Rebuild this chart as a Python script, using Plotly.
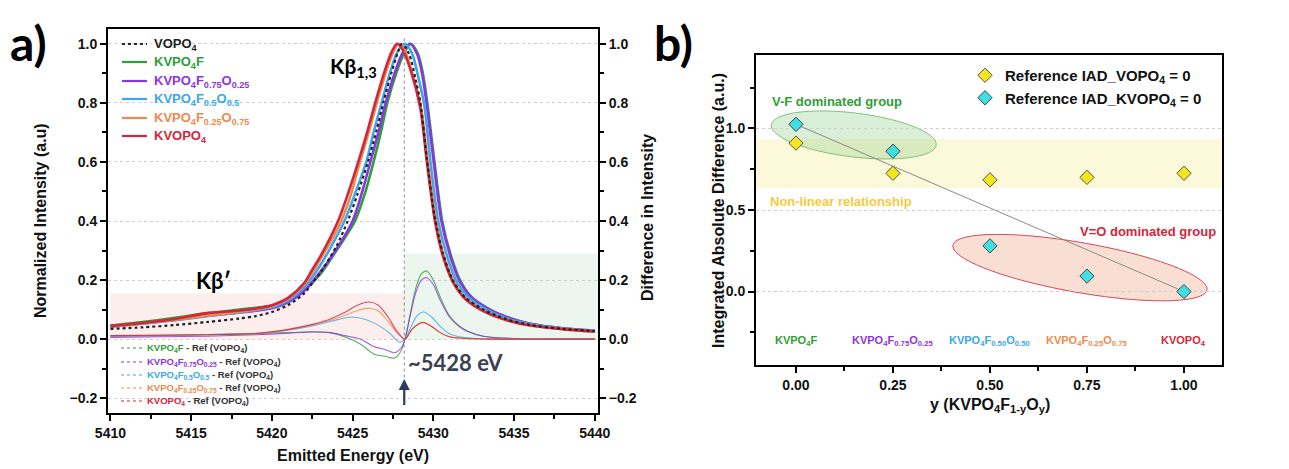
import numpy as np
import plotly.graph_objects as go

# ---------------- data: panel a (normalized Kβ spectra) ----------------
vopo4_E = [5410, 5412, 5414, 5416, 5418, 5419, 5420, 5421, 5422, 5422.5, 5423, 5424, 5424.7, 5425.3, 5425.95, 5426.5,
           5426.9, 5427.4, 5427.8, 5428.05, 5428.5, 5428.9, 5429.2, 5429.6, 5430.1, 5430.6, 5431.2, 5432, 5433.1,
           5434.5, 5436, 5438, 5440]
vopo4_I = [0.035, 0.04, 0.048, 0.058, 0.07, 0.078, 0.092, 0.115, 0.155, 0.19, 0.225, 0.315, 0.40, 0.49, 0.60, 0.71,
           0.80, 0.90, 0.97, 1.0, 0.965, 0.88, 0.80, 0.61, 0.41, 0.29, 0.20, 0.14, 0.10,
           0.068, 0.048, 0.035, 0.027]

kvpo4f_E = [5410, 5412, 5414, 5416, 5418, 5419, 5420, 5421, 5422, 5423, 5424, 5424.6, 5425.15, 5425.8, 5426.3,
            5426.75, 5427.15, 5427.7, 5428.2, 5428.6, 5429.05, 5429.35, 5429.65, 5430.05, 5430.55, 5431.05,
            5431.65, 5432.4, 5433.5, 5434.8, 5436, 5438, 5440]
kvpo4f_I = [0.046, 0.058, 0.072, 0.088, 0.1, 0.106, 0.114, 0.13, 0.165, 0.22, 0.30, 0.35, 0.40, 0.50, 0.60,
            0.70, 0.80, 0.90, 0.97, 1.0, 0.965, 0.90, 0.79, 0.61, 0.40, 0.29,
            0.20, 0.14, 0.10, 0.07, 0.052, 0.037, 0.029]

f75_E = [5410, 5412, 5414, 5416, 5418, 5420, 5421, 5422, 5423, 5424, 5425.0, 5425.6, 5426.1, 5426.6, 5427.05,
         5427.6, 5428.1, 5428.55, 5429.0, 5429.3, 5429.6, 5430.0, 5430.5, 5431.0, 5431.6, 5432.4, 5433.5,
         5434.8, 5436, 5438, 5440]
f75_I = [0.043, 0.053, 0.065, 0.079, 0.09, 0.105, 0.125, 0.163, 0.228, 0.305, 0.40, 0.50, 0.60, 0.70, 0.80,
         0.90, 0.97, 1.0, 0.965, 0.90, 0.79, 0.61, 0.40, 0.29, 0.20, 0.14, 0.10,
         0.07, 0.052, 0.037, 0.029]

f50_E = [5410, 5412, 5414, 5416, 5418, 5420, 5421, 5422, 5423, 5424.5, 5425.2, 5425.85, 5426.3, 5426.8, 5427.3,
         5427.8, 5428.25, 5428.7, 5429.1, 5429.45, 5429.8, 5430.3, 5430.8, 5431.4, 5432.2, 5433.3, 5434.5,
         5436, 5438, 5440]
f50_I = [0.042, 0.052, 0.064, 0.078, 0.09, 0.108, 0.13, 0.175, 0.25, 0.40, 0.50, 0.60, 0.70, 0.80, 0.90,
         0.975, 1.0, 0.965, 0.88, 0.79, 0.61, 0.40, 0.29, 0.20, 0.14, 0.10, 0.071,
         0.05, 0.036, 0.028]

f25_E = [5410, 5412, 5414, 5416, 5418, 5420, 5421, 5422, 5423, 5424.3, 5424.9, 5425.45, 5426.0, 5426.5, 5427.1,
         5427.5, 5427.85, 5428.2, 5428.7, 5429.25, 5429.65, 5430.15, 5430.65, 5431.25, 5432, 5433.1, 5434.5,
         5436, 5438, 5440]
f25_I = [0.044, 0.054, 0.066, 0.08, 0.093, 0.112, 0.137, 0.185, 0.27, 0.40, 0.49, 0.60, 0.70, 0.80, 0.91,
         0.97, 1.0, 0.98, 0.90, 0.78, 0.60, 0.40, 0.28, 0.195, 0.137, 0.096, 0.066,
         0.047, 0.034, 0.026]

kvopo4_E = [5410, 5412, 5414, 5416, 5418, 5419, 5420, 5421, 5422, 5422.5, 5423, 5424.1, 5424.7, 5425.35, 5425.9,
            5426.4, 5427.0, 5427.4, 5427.75, 5428.1, 5428.6, 5429.2, 5429.6, 5430.1, 5430.6, 5431.2, 5432,
            5433.1, 5434.5, 5436, 5438, 5440]
kvopo4_I = [0.045, 0.055, 0.068, 0.088, 0.097, 0.104, 0.115, 0.14, 0.19, 0.235, 0.28, 0.40, 0.49, 0.60, 0.70,
            0.80, 0.91, 0.97, 1.0, 0.98, 0.91, 0.78, 0.60, 0.40, 0.28, 0.195, 0.135,
            0.095, 0.065, 0.046, 0.034, 0.026]

# ---------------- data: panel a (difference spectra, sample - VOPO4) ----------------
dgp_E = [5410, 5413, 5416, 5419, 5421, 5422.5, 5423.6, 5424.5, 5425.5, 5426.3, 5427.0, 5427.6, 5428.0, 5428.25,
         5428.55, 5428.9, 5429.25, 5429.6, 5430.0, 5430.4, 5431.0, 5431.6, 5432.1, 5433.1, 5435, 5437.5, 5440]
d_kvpo4f = [0.01, 0.012, 0.016, 0.02, 0.022, 0.025, 0.022, 0.008, -0.017, -0.05, -0.058, -0.064, -0.04, 0.0,
            0.08, 0.17, 0.22, 0.231, 0.2, 0.146, 0.079, 0.045, 0.028, 0.01, 0.002, 0.0, 0.0]
d_f75 = [0.006, 0.008, 0.01, 0.015, 0.02, 0.024, 0.022, 0.012, 0.0, -0.025, -0.035, -0.046, -0.03, 0.0,
         0.075, 0.155, 0.2, 0.208, 0.185, 0.135, 0.075, 0.043, 0.027, 0.01, 0.002, 0.0, 0.0]

d50_E = [5410, 5413, 5416, 5419, 5421, 5422.5, 5423.5, 5424.8, 5425.6, 5426.5, 5427.3, 5427.9, 5428.25, 5428.6,
         5429.0, 5429.4, 5429.9, 5430.4, 5431.0, 5431.6, 5432.5, 5434, 5437, 5440]
d_f50 = [0.012, 0.013, 0.015, 0.018, 0.03, 0.045, 0.058, 0.074, 0.07, 0.05, 0.02, -0.01, 0.0, 0.04,
         0.08, 0.092, 0.075, 0.045, 0.018, 0.008, 0.003, 0.0, 0.0, 0.0]

dO_E = [5410, 5413, 5416, 5419, 5421, 5422.5, 5423.5, 5424.5, 5425.3, 5426.0, 5426.6, 5427.2, 5427.7, 5428.25,
        5428.7, 5429.35, 5429.9, 5430.4, 5431.0, 5432, 5434, 5437, 5440]
d_f25 = [0.012, 0.013, 0.015, 0.019, 0.032, 0.048, 0.062, 0.08, 0.097, 0.105, 0.095, 0.06, 0.025, 0.0,
         0.035, 0.055, 0.042, 0.023, 0.008, 0.002, 0.0, 0.0, 0.0]
d_kvopo4 = [0.012, 0.013, 0.015, 0.019, 0.033, 0.05, 0.066, 0.09, 0.115, 0.126, 0.115, 0.075, 0.03, 0.0,
            0.035, 0.057, 0.043, 0.023, 0.008, 0.002, 0.0, 0.0, 0.0]

# ---------------- data: panel b (IAD) ----------------
y_comp = [0.0, 0.25, 0.50, 0.75, 1.00]
iad_ref_vopo4 = [0.91, 0.725, 0.685, 0.70, 0.725]
iad_ref_kvopo4 = [1.025, 0.86, 0.28, 0.095, 0.0]
comp_labels = ["KVPO<sub>4</sub>F", "KVPO<sub>4</sub>F<sub>0.75</sub>O<sub>0.25</sub>",
               "KVPO<sub>4</sub>F<sub>0.50</sub>O<sub>0.50</sub>", "KVPO<sub>4</sub>F<sub>0.25</sub>O<sub>0.75</sub>",
               "KVOPO<sub>4</sub>"]
legend_labels = ["KVPO<sub>4</sub>F", "KVPO<sub>4</sub>F<sub>0.75</sub>O<sub>0.25</sub>",
                 "KVPO<sub>4</sub>F<sub>0.5</sub>O<sub>0.5</sub>", "KVPO<sub>4</sub>F<sub>0.25</sub>O<sub>0.75</sub>",
                 "KVOPO<sub>4</sub>"]

GREEN = "#2f9e35"
PURPLE = "#8b34e3"
BLUE = "#3aa8ea"
ORANGE = "#f08a4c"
RED = "#d3263a"
comp_colors = [GREEN, PURPLE, BLUE, ORANGE, RED]

AR = "Liberation Sans"
CAL = "Lato"
W, H = 1289, 469

def col(txt, c):
    return f'<span style="color:{c}">{txt}</span>'

def px(x):
    return x / W

def py(y):
    return (H - y) / H

fig = go.Figure()

main = [
    (kvpo4f_E, kvpo4f_I),
    (f75_E, f75_I),
    (f50_E, f50_I),
    (f25_E, f25_I),
    (kvopo4_E, kvopo4_I),
]
diffs = [
    (dgp_E, d_kvpo4f),
    (dgp_E, d_f75),
    (d50_E, d_f50),
    (dO_E, d_f25),
    (dO_E, d_kvopo4),
]
for (E, D), c, nm in zip(diffs, comp_colors, legend_labels):
    fig.add_trace(go.Scatter(x=E, y=D, mode="lines", xaxis="x", yaxis="y2",
                             line=dict(color=c, width=1.1, shape="spline", smoothing=0.8),
                             opacity=0.8, name=nm + " - Ref (VOPO4)", showlegend=False))

for (E, I), c, nm in zip(main, comp_colors, legend_labels):
    fig.add_trace(go.Scatter(x=E, y=I, mode="lines", xaxis="x", yaxis="y",
                             line=dict(color=c, width=2.6, shape="spline", smoothing=0.8),
                             name=nm, showlegend=False))
fig.add_trace(go.Scatter(x=vopo4_E, y=vopo4_I, mode="lines", xaxis="x", yaxis="y",
                         line=dict(color="#222222", width=2.2, dash="dot", shape="spline", smoothing=0.8),
                         name="VOPO4", showlegend=False))

# panel b
fig.add_trace(go.Scatter(x=[y_comp[0], y_comp[-1]], y=[iad_ref_kvopo4[0], iad_ref_kvopo4[-1]], mode="lines",
                         xaxis="x3", yaxis="y3", line=dict(color="#8a8a8a", width=1), showlegend=False,
                         hoverinfo="skip"))
fig.add_trace(go.Scatter(x=y_comp, y=iad_ref_vopo4, mode="markers", xaxis="x3", yaxis="y3",
                         marker=dict(symbol="diamond", size=11, color="#f3e61c", line=dict(color="#555555", width=1)),
                         name="Reference IAD_VOPO<sub>4</sub> = 0", legend="legend3"))
fig.add_trace(go.Scatter(x=y_comp, y=iad_ref_kvopo4, mode="markers", xaxis="x3", yaxis="y3",
                         marker=dict(symbol="diamond", size=11, color="#3fe0e4", line=dict(color="#444444", width=1)),
                         name="Reference IAD_KVOPO<sub>4</sub> = 0", legend="legend3"))

# ---------------- shapes ----------------
def ellipse_path(cx, cy, a_px, b_px, ang_deg, sx, sy, n=90):
    t = np.linspace(0, 2 * np.pi, n)
    th = np.radians(ang_deg)
    dx = a_px * np.cos(t) * np.cos(th) - b_px * np.sin(t) * np.sin(th)
    dy = a_px * np.cos(t) * np.sin(th) + b_px * np.sin(t) * np.cos(th)
    xs = cx + dx / sx
    ys = cy - dy / sy
    return "M " + " L ".join(f"{x:.4f},{y:.4f}" for x, y in zip(xs, ys)) + " Z"

SX, SY = 388.0, 163.5
shapes = [
    dict(type="rect", xref="x", yref="y", x0=5410, x1=5428.2, y0=0, y1=0.155,
         fillcolor="rgba(248,200,200,0.30)", line=dict(width=0), layer="below"),
    dict(type="rect", xref="x", yref="y", x0=5428.2, x1=5440.2, y0=0, y1=0.29,
         fillcolor="rgba(200,230,210,0.35)", line=dict(width=0), layer="below"),
    dict(type="line", xref="x", yref="y", x0=5428.2, x1=5428.2, y0=-0.13, y1=1.02,
         line=dict(color="#8a8a8a", width=1, dash="dot")),
    dict(type="rect", xref="x3 domain", yref="y3", x0=0, x1=1, y0=0.635, y1=0.935,
         fillcolor="rgba(250,245,195,0.6)", line=dict(width=0), layer="below"),
    dict(type="path", xref="x3", yref="y3", path=ellipse_path(0.149, 0.96, 83, 22, 7, SX, SY),
         fillcolor="rgba(150,210,140,0.35)", line=dict(color="#7fc07f", width=1), layer="below"),
    dict(type="path", xref="x3", yref="y3", path=ellipse_path(0.732, 0.147, 129, 25, 10, SX, SY),
         fillcolor="rgba(240,175,145,0.40)", line=dict(color="#d24a5a", width=1), layer="below"),
]

# ---------------- annotations ----------------
def A(text, x, y, xref="paper", yref="paper", xanchor="center", yanchor="middle", **font):
    return dict(text=text, x=x, y=y, xref=xref, yref=yref, xanchor=xanchor, yanchor=yanchor,
                showarrow=False, font=font)

ann = [
    A("<b>a)</b>", px(8), py(42), xanchor="left", family=CAL, size=48, color="black"),
    A("<b>b)</b>", px(652), py(42), xanchor="left", family=CAL, size=48, color="black"),
    A("<b>Kβ<sub>1,3</sub></b>", 5423.5, 0.92, xref="x", yref="y", xanchor="left",
      family=CAL, size=21, color="black"),
    A("<b>Kβ′</b>", 5416.4, 0.2, xref="x", yref="y", family=CAL, size=22, color="black"),
    A("<b>~5428 eV</b>", 5428.3, -0.08, xref="x", yref="y", xanchor="left", family=CAL, size=22, color="#3a4252"),
    dict(text="", x=5428.2, y=-0.135, ax=5428.2, ay=-0.228, xref="x", yref="y", axref="x", ayref="y",
         showarrow=True, arrowhead=2, arrowsize=1, arrowwidth=2.2, arrowcolor="#2b3a5e"),
    # axis titles
    A("<b>Emitted Energy (eV)</b>", px(353), py(455), family=AR, size=16, color="#111"),
    A("<b>y (KVPO<sub>4</sub>F<sub>1-y</sub>O<sub>y</sub>)</b>", px(990), py(405), family=AR, size=16,
      color="#111"),
    # panel b texts
    A("<b>V-F dominated group</b>", -0.068, 1.168, xref="x3", yref="y3", xanchor="left",
      family=AR, size=13, color="#2f9e35"),
    A("<b>Non-linear relationship</b>", -0.072, 0.555, xref="x3", yref="y3", xanchor="left",
      family=AR, size=13, color="#f2cc3e"),
    A("<b>V=O dominated group</b>", 1.088, 0.367, xref="x3", yref="y3", xanchor="right",
      family=AR, size=13, color="#d3263a"),
]
for txt, xx, yy in [("<b>Normalized Intensity (a.u)</b>", 40, 221),
                    ("<b>Difference in Intensity</b>", 648, 218),
                    ("<b>Integrated Absolute Difference (a.u.)</b>", 719, 210)]:
    a = A(txt, px(xx), py(yy), family=AR, size=16, color="#111")
    a["textangle"] = -90
    ann.append(a)

for xv, lab, c in zip(y_comp, comp_labels, comp_colors):
    ann.append(A(f"<b>{lab}</b>", xv, -0.305, xref="x3", yref="y3", family=AR, size=11, color=c))

# ---- hand-placed legend for the spectra (top-left) ----
leg1_rows = [44, 62, 81, 99, 118, 136]
leg1_names = ["VOPO<sub>4</sub>"] + legend_labels
leg1_cols = ["#222222"] + comp_colors
for i, (r, nm, c) in enumerate(zip(leg1_rows, leg1_names, leg1_cols)):
    shapes.append(dict(type="line", xref="paper", yref="paper", x0=px(122), x1=px(147), y0=py(r), y1=py(r),
                       line=dict(color=c, width=2.2 if i else 1.8, dash="dot" if i == 0 else "solid")))
    ann.append(A(f"<b>{nm}</b>", px(152), py(r), xanchor="left", family=AR, size=13, color=c))

# ---- hand-placed legend for the difference spectra (bottom-left) ----
leg2_rows = [348, 362, 375, 388, 401]
for r, nm, c in zip(leg2_rows, legend_labels, comp_colors):
    shapes.append(dict(type="line", xref="paper", yref="paper", x0=px(121), x1=px(143), y0=py(r), y1=py(r),
                       line=dict(color=c, width=1, dash="dot")))
    ann.append(A(f"<b>{col(nm, c)} - Ref (VOPO<sub>4</sub>)</b>", px(145), py(r), xanchor="left",
                 family=AR, size=9.5, color="#333"))

tickfont = dict(family=AR, size=14, color="#111", weight="bold")
axline = dict(showline=True, linewidth=2, linecolor="black", ticks="outside", ticklen=6, tickwidth=2,
              tickcolor="black", zeroline=False, tickfont=tickfont)

fig.update_layout(
    width=W, height=H, margin=dict(l=0, r=0, t=0, b=0),
    paper_bgcolor="white", plot_bgcolor="white",
    shapes=shapes, annotations=ann,
    xaxis=dict(domain=[px(108), px(598)], anchor="y", range=[5409.85, 5440.2], tick0=5410, dtick=5,
               mirror=True, showgrid=False, automargin=False,
               minor=dict(ticks="outside", ticklen=4, tickwidth=1.5, dtick=2.5, tick0=5410, tickcolor="black"),
               **axline),
    yaxis=dict(domain=[py(413), py(29)], anchor="x", range=[-0.25, 1.05], tick0=0, dtick=0.2,
               tickformat=".1f", showgrid=True, gridcolor="#cfcfcf", griddash="dot", gridwidth=1,
               automargin=False,
               minor=dict(ticks="outside", ticklen=4, tickwidth=1.5, dtick=0.1, tick0=0, tickcolor="black"),
               **axline),
    yaxis2=dict(overlaying="y", side="right", anchor="x", range=[-0.25, 1.05], tick0=0, dtick=0.2,
                tickformat=".1f", showgrid=False, automargin=False,
                minor=dict(ticks="outside", ticklen=4, tickwidth=1.5, dtick=0.1, tick0=0, tickcolor="black"),
                **axline),
    xaxis3=dict(domain=[px(756), px(1222)], anchor="y3", range=[-0.103, 1.098],
                tickvals=[0, 0.25, 0.5, 0.75, 1.0], tickformat=".2f", mirror=True, showgrid=False,
                automargin=False,
                minor=dict(ticks="outside", ticklen=4, tickwidth=1.5, dtick=0.125, tick0=0, tickcolor="black"),
                **axline),
    yaxis3=dict(domain=[py(365), py(55)], anchor="x3", range=[-0.45, 1.45], tick0=0,
                dtick=0.5, tickformat=".1f", mirror=True, showgrid=True, gridcolor="#cfcfcf", griddash="dot",
                automargin=False,
                minor=dict(ticks="outside", ticklen=4, tickwidth=1.5, dtick=0.25, tick0=0, tickcolor="black"),
                **axline),
    legend3=dict(x=px(965), y=py(59), xanchor="left", yanchor="top", bgcolor="rgba(0,0,0,0)",
                 font=dict(family=AR, size=15, color="#111", weight="bold"), tracegroupgap=0),
    showlegend=True,
)

fig.write_html("out.html", config={"displayModeBar": False},
               post_script="document.body.style.margin='0';document.body.style.padding='0';"
                           "document.body.style.overflow='hidden';")
